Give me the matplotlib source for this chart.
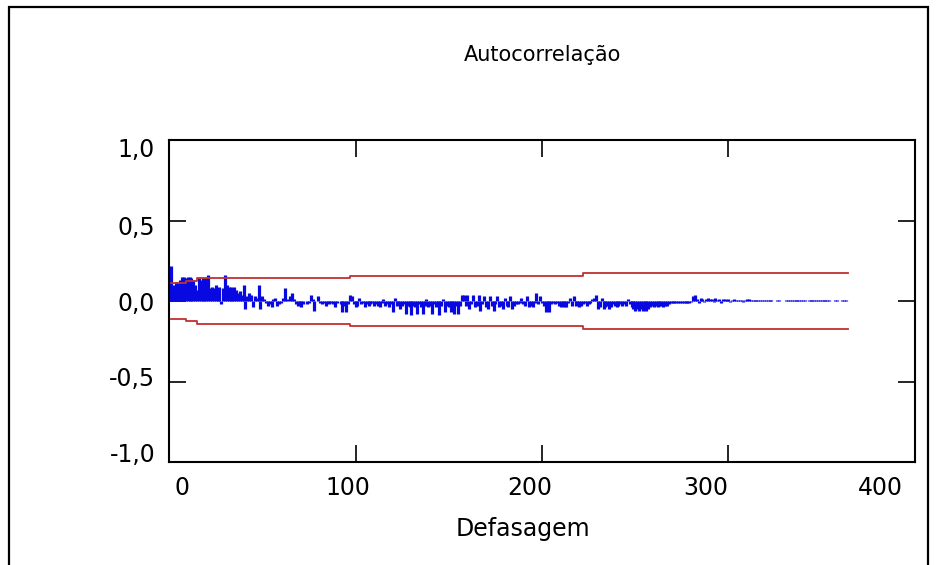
import numpy as np
import matplotlib
matplotlib.use("Agg")
import matplotlib.pyplot as plt
import matplotlib.transforms as mtransforms
from matplotlib.patches import Rectangle

# ACF by lag (lags 1..364)
acf_01_20 = [0.22, 0.10, 0.09, 0.12, 0.11, 0.13, 0.15, 0.15, 0.14, 0.15,
             0.15, 0.14, 0.13, 0.10, 0.07, 0.14, 0.13, 0.14, 0.12, 0.14]
acf_21_40 = [0.16, 0.08, 0.09, 0.08, 0.10, 0.08, 0.09, -0.02, 0.08, 0.16,
             0.10, 0.09, 0.09, 0.08, 0.09, 0.07, 0.05, 0.06, 0.04, 0.10]
acf_41_60 = [-0.05, 0.03, 0.05, 0.04, -0.04, 0.03, 0.02, 0.10, -0.05, 0.03,
             0.01, -0.01, -0.03, -0.02, -0.04, 0.01, 0.02, -0.03, -0.02, -0.01]
acf_61_80 = [0.02, 0.08, 0.01, 0.00, 0.03, 0.05, 0.01, -0.02, -0.03, -0.01,
             -0.04, -0.02, 0.00, -0.02, -0.01, 0.04, 0.01, -0.06, 0.00, 0.03]
acf_81_100 = [-0.01, -0.02, -0.01, -0.03, -0.01, -0.02, -0.01, -0.02, -0.04, -0.01,
              0.00, -0.02, -0.07, -0.03, -0.07, -0.02, 0.04, 0.03, -0.02, -0.04]
acf_101_124 = [-0.03, 0.02, -0.02, -0.01, -0.04, -0.02, -0.03, -0.02, -0.01, -0.03,
               -0.02, -0.03, -0.04, -0.01, 0.01, -0.03, -0.02, -0.04, -0.02, -0.07,
               0.02, -0.03, -0.02, -0.05]
acf_125_155 = [-0.03, -0.02, -0.08, -0.03, -0.04, -0.09, -0.03, -0.04, -0.08, -0.02,
               -0.04, -0.08, -0.03, 0.01, -0.04, -0.03, -0.08, -0.02, -0.04, -0.03,
               -0.09, -0.03, 0.01, -0.07, -0.03, -0.04, -0.07, -0.02, -0.08, -0.03,
               -0.08]
acf_156_186 = [-0.03, 0.04, 0.04, -0.03, 0.04, -0.05, -0.02, 0.04, -0.04, -0.03,
               0.04, -0.06, -0.02, 0.03, -0.04, -0.05, 0.03, -0.03, -0.06, -0.02,
               0.03, -0.04, -0.03, -0.05, 0.02, -0.03, -0.04, 0.03, -0.05, -0.03,
               -0.02]
acf_187_217 = [-0.02, -0.01, 0.02, -0.02, -0.03, 0.03, -0.04, -0.03, -0.04, -0.01,
               0.05, -0.02, 0.03, -0.01, -0.03, -0.07, -0.06, -0.07, -0.02, -0.01,
               -0.02, -0.01, -0.03, -0.04, -0.02, -0.04, -0.04, -0.01, 0.02, -0.03,
               0.03]
acf_218_248 = [-0.03, -0.02, -0.04, -0.03, -0.02, -0.01, -0.03, -0.02, -0.01, 0.01,
               0.02, 0.04, -0.05, -0.04, 0.02, -0.05, -0.04, -0.03, -0.05, -0.04,
               -0.02, -0.03, -0.04, -0.03, -0.02, -0.03, -0.02, -0.03, 0.01, -0.02,
               -0.04]
acf_249_280 = [-0.05, -0.06, -0.05, -0.06, -0.05, -0.06, -0.05, -0.06, -0.05, -0.04,
               -0.03, -0.04, -0.03, -0.04, -0.03, -0.03, -0.04, -0.03, -0.03, -0.02,
               -0.01, -0.01, -0.01, -0.01, -0.01, -0.01, -0.01, -0.01, -0.01, -0.01,
               -0.01, -0.005]
acf_281_310 = [0.03, 0.035, 0.01, -0.01, 0.02, 0.01, -0.005, 0.01, 0.02, 0.01,
               0.015, -0.005, 0.02, 0.005, 0.01, -0.01, 0.015, 0.01, 0.005, 0.01,
               -0.005, 0.005, 0.01, 0.006, 0.006, 0.006, 0.008, -0.006, 0.006, 0.012]
acf_311_364 = [0.01, 0.008, 0.006, 0.006, 0.006, 0.006, 0.006, 0.006, 0.006, 0.006,
               0.006, 0.006, 0.006, 0.0, 0.0, 0.006, 0.006, 0.0, 0.0, 0.0,
               0.006, 0.006, 0.006, 0.006, 0.006, 0.006, 0.006, 0.006, 0.006, 0.006,
               0.006, 0.0, 0.006, 0.006, 0.006, 0.006, 0.006, 0.006, 0.006, 0.006,
               0.006, 0.006, 0.006, 0.006, 0.0, 0.0, 0.006, 0.006, 0.0, 0.0,
               0.006, 0.006, 0.006, 0.0]

acf = np.array(acf_01_20 + acf_21_40 + acf_41_60 + acf_61_80 + acf_81_100
               + acf_101_124 + acf_125_155 + acf_156_186 + acf_187_217
               + acf_218_248 + acf_249_280 + acf_281_310 + acf_311_364)
lags = np.arange(1, len(acf) + 1)

# confidence band half-width (step changes)
band_lags = [1, 9, 15, 97, 222, 364]
band_width = [0.11, 0.125, 0.14, 0.155, 0.175, 0.175]

xticks = [0, 100, 200, 300, 400]
xtick_labels = ["0", "100", "200", "300", "400"]
yticks = [-1.0, -0.5, 0.0, 0.5, 1.0]
ytick_labels = ["-1,0", "-0,5", "0,0", "0,5", "1,0"]

plt.rcParams.update({"font.family": "DejaVu Sans"})

fig = plt.figure(figsize=(9.37, 5.65), dpi=100)
ax = fig.add_axes([0.1804, 0.1823, 0.7961, 0.5699])

ax.vlines(lags, 0, acf, color="#0808e0", linewidth=2.3)
upper = np.array(band_width)
ax.plot(band_lags, upper, color="#c03030", linewidth=1.3, drawstyle="steps-post")
ax.plot(band_lags, -upper, color="#c03030", linewidth=1.3, drawstyle="steps-post")

ax.set_xlim(0, 400)
ax.set_ylim(-1, 1)
ax.set_xticks(xticks)
ax.set_xticklabels(xtick_labels)
ax.set_yticks(yticks)
ax.set_yticklabels(ytick_labels)
ax.tick_params(direction="in", length=12, width=1.2, top=True, right=True,
               labelsize=17, pad=10, colors="black")
for sp in ax.spines.values():
    sp.set_linewidth(1.5)

# labels in the source sit slightly off their ticks
x_shift = [13, -8, -12, -23, -35]
for lab, dx in zip(ax.get_xticklabels(), x_shift):
    lab.set_transform(lab.get_transform()
                      + mtransforms.ScaledTranslation(dx / 100, 0, fig.dpi_scale_trans))
y_shift = [10, 5, 0, -5, -7]
for lab, dy in zip(ax.get_yticklabels(), y_shift):
    lab.set_transform(lab.get_transform()
                      + mtransforms.ScaledTranslation(0, dy / 100, fig.dpi_scale_trans))

ax.set_xlabel("Defasagem", fontsize=17, labelpad=12)
ax.xaxis.label.set_x(0.475)
fig.text(0.579, 0.903, "Autocorrelação", ha="center", va="center", fontsize=15)

# outer frame
fig.patches.append(Rectangle((9 / 937, -0.05), 919 / 937, 1.05 - 7 / 565,
                             transform=fig.transFigure, fill=False,
                             edgecolor="black", linewidth=1.6))

fig.savefig("out.png", dpi=100)
